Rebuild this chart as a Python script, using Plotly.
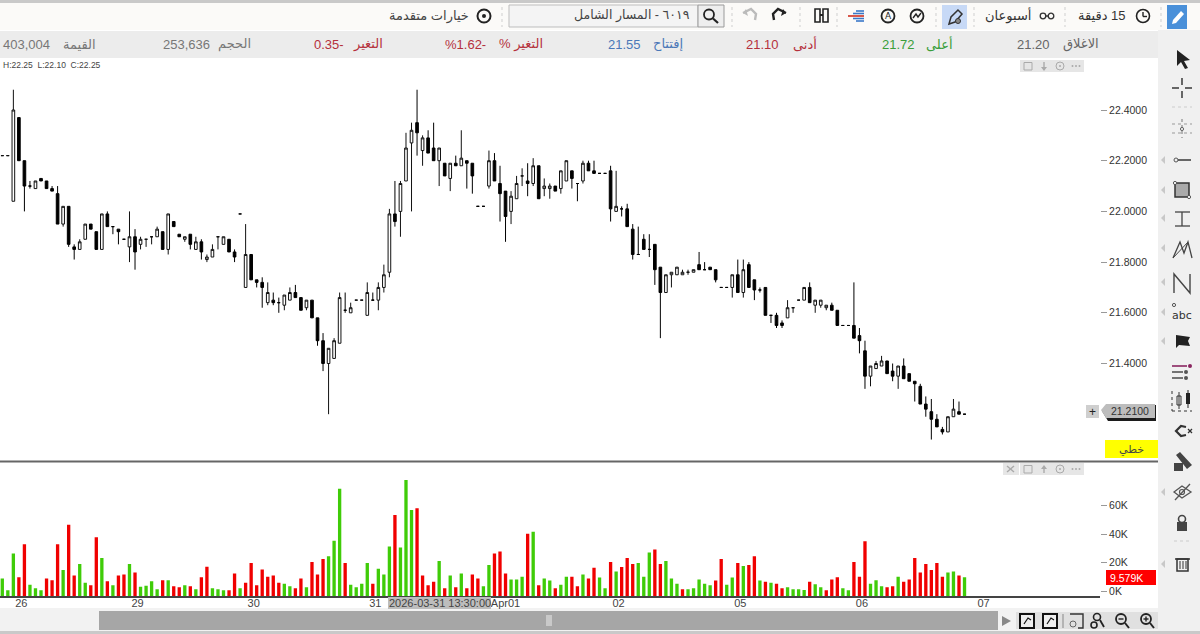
import plotly.graph_objects as go

opens = [22.22,22.22,22.04,22.37,22.20,22.10,22.09,22.13,22.12,22.09,
22.07,21.95,22.02,21.86,21.85,21.89,21.95,21.92,21.85,21.99,
21.94,21.93,21.89,21.86,21.90,21.87,21.89,21.90,21.90,21.92,
21.85,21.96,21.91,21.89,21.91,21.85,21.88,21.81,21.82,21.90,
21.87,21.89,21.84,21.99,21.70,21.83,21.73,21.72,21.64,21.65,
21.64,21.63,21.65,21.68,21.66,21.62,21.65,21.58,21.49,21.40,
21.42,21.48,21.61,21.60,21.65,21.65,21.59,21.65,21.65,21.70,
21.76,21.99,22.00,22.12,22.27,22.35,22.24,22.29,22.25,22.20,
22.19,22.13,22.19,22.18,22.20,22.19,22.02,22.02,22.10,22.20,
22.11,22.08,22.00,22.05,22.14,22.12,22.11,22.18,22.09,22.09,
22.10,22.09,22.12,22.16,22.11,22.12,22.19,22.16,22.15,22.15,
22.16,22.00,22.01,22.01,21.93,21.83,21.89,21.85,21.87,21.78,
21.68,21.75,21.75,21.75,21.76,21.76,21.79,21.77,21.78,21.77,
21.70,21.70,21.70,21.75,21.68,21.79,21.73,21.69,21.70,21.59,
21.59,21.56,21.58,21.62,21.65,21.65,21.70,21.63,21.63,21.62,
21.63,21.61,21.55,21.55,21.55,21.51,21.45,21.35,21.38,21.39,
21.41,21.37,21.35,21.39,21.36,21.33,21.31,21.24,21.21,21.18,
21.14,21.13,21.19,21.21,21.20]
highs = [22.22,22.22,22.48,22.37,22.20,22.12,22.12,22.13,22.12,22.10,
22.10,22.02,22.02,21.87,21.89,21.95,21.95,21.92,21.99,22.00,
21.94,21.93,21.89,22.00,21.93,21.90,21.89,21.90,21.94,21.92,
21.99,21.96,21.91,21.90,21.91,21.90,21.89,21.83,21.87,21.90,
21.90,21.89,21.85,21.99,21.95,21.83,21.73,21.74,21.72,21.68,
21.66,21.67,21.70,21.71,21.66,21.65,21.65,21.58,21.52,21.46,
21.50,21.68,21.68,21.64,21.65,21.65,21.72,21.68,21.72,21.79,
22.01,22.12,22.12,22.31,22.35,22.48,22.30,22.32,22.35,22.25,
22.19,22.19,22.22,22.32,22.20,22.19,22.02,22.02,22.24,22.23,
22.18,22.08,22.08,22.14,22.17,22.19,22.21,22.18,22.13,22.11,
22.10,22.16,22.20,22.16,22.11,22.20,22.20,22.20,22.15,22.15,
22.18,22.16,22.02,22.03,21.95,21.94,21.91,21.91,21.87,21.78,
21.75,21.76,21.78,21.77,21.77,21.77,21.84,21.80,21.78,21.77,
21.70,21.70,21.75,21.81,21.81,21.80,21.73,21.70,21.70,21.59,
21.60,21.57,21.65,21.62,21.65,21.70,21.72,21.65,21.65,21.63,
21.64,21.61,21.55,21.55,21.72,21.54,21.49,21.39,21.41,21.43,
21.41,21.40,21.39,21.42,21.36,21.33,21.32,21.27,21.26,21.20,
21.15,21.19,21.26,21.25,21.20]
lows = [22.22,22.22,22.04,22.20,22.00,22.09,22.09,22.12,22.09,22.08,
21.95,21.94,21.86,21.81,21.85,21.89,21.93,21.85,21.85,21.94,
21.91,21.87,21.89,21.80,21.77,21.85,21.86,21.87,21.90,21.85,
21.83,21.94,21.90,21.88,21.85,21.85,21.81,21.80,21.82,21.85,
21.87,21.84,21.80,21.99,21.70,21.73,21.70,21.62,21.63,21.63,
21.60,21.61,21.65,21.66,21.61,21.61,21.58,21.47,21.37,21.20,
21.42,21.48,21.60,21.60,21.65,21.65,21.59,21.65,21.61,21.68,
21.74,21.94,21.90,22.12,22.00,22.22,22.18,22.23,22.20,22.10,
22.14,22.08,22.18,22.18,22.09,22.07,22.02,22.02,22.09,22.12,
21.96,21.88,21.95,22.05,22.10,22.06,22.10,22.05,22.06,22.05,
22.08,22.07,22.12,22.09,22.04,22.11,22.16,22.15,22.15,22.15,
21.96,22.00,21.98,21.94,21.81,21.83,21.85,21.82,21.71,21.50,
21.68,21.70,21.75,21.75,21.75,21.76,21.77,21.77,21.77,21.72,
21.70,21.70,21.66,21.68,21.66,21.70,21.65,21.68,21.59,21.56,
21.54,21.54,21.58,21.60,21.65,21.65,21.64,21.60,21.62,21.61,
21.61,21.55,21.55,21.55,21.50,21.44,21.30,21.31,21.38,21.39,
21.36,21.33,21.30,21.34,21.33,21.25,21.24,21.19,21.10,21.15,
21.12,21.13,21.19,21.20,21.20]
closes = [22.22,22.22,22.40,22.20,22.10,22.10,22.12,22.12,22.09,22.08,
21.95,22.02,21.87,21.85,21.88,21.95,21.93,21.85,21.99,21.94,
21.94,21.92,21.89,21.90,21.84,21.89,21.89,21.90,21.93,21.85,
21.99,21.94,21.90,21.90,21.87,21.88,21.84,21.82,21.85,21.90,
21.90,21.84,21.82,21.99,21.83,21.73,21.72,21.70,21.68,21.64,
21.64,21.67,21.68,21.66,21.61,21.65,21.58,21.49,21.40,21.46,
21.49,21.66,21.61,21.62,21.65,21.65,21.68,21.65,21.70,21.75,
21.99,21.96,22.11,22.25,22.32,22.31,22.29,22.23,22.20,22.25,
22.14,22.19,22.18,22.21,22.19,22.14,22.02,22.02,22.20,22.12,
22.07,21.98,22.06,22.11,22.14,22.11,22.18,22.05,22.10,22.10,
22.08,22.16,22.20,22.13,22.11,22.19,22.16,22.15,22.15,22.15,
22.01,22.02,22.01,21.94,21.83,21.83,21.85,21.85,21.77,21.68,
21.75,21.76,21.78,21.76,21.76,21.77,21.77,21.77,21.77,21.73,
21.70,21.70,21.75,21.68,21.77,21.70,21.69,21.69,21.59,21.59,
21.55,21.55,21.62,21.62,21.65,21.70,21.64,21.65,21.65,21.63,
21.61,21.55,21.55,21.55,21.50,21.49,21.35,21.39,21.40,21.41,
21.36,21.35,21.39,21.34,21.33,21.32,21.24,21.22,21.18,21.15,
21.13,21.19,21.22,21.20,21.20]
volumes_k = [8.7,0.5,26.4,9.6,32.8,4.4,1.9,0.5,8.7,7.5,
32.8,14.7,46.5,10.8,19.0,5.8,4.0,37.7,23.2,6.8,
4.0,10.8,11.5,19.0,12.9,3.0,3.7,6.8,1.2,7.5,
7.5,3.3,2.6,4.0,3.3,1.2,9.6,17.0,1.9,1.2,
0.5,0.5,12.2,1.9,5.8,19.6,4.0,15.0,10.0,10.8,
5.8,5.1,3.3,1.9,8.7,2.6,20.4,11.5,22.5,24.3,
35.3,71.8,19.6,4.4,2.6,5.1,19.6,5.1,15.7,11.5,
31.3,53.3,30.6,77.9,56.8,58.0,10.8,4.0,6.5,21.0,
1.9,10.8,2.6,12.2,1.9,11.5,8.7,3.3,18.2,26.4,
27.8,12.2,8.0,8.0,10.0,40.2,41.6,4.0,8.7,7.3,
1.9,4.4,10.0,10.0,3.3,11.5,8.7,16.4,9.4,1.9,
20.4,13.6,16.8,23.2,19.0,19.6,10.0,27.1,29.2,19.0,
21.0,8.7,5.1,1.2,1.2,1.9,8.0,5.1,4.0,7.3,
22.5,4.4,9.4,19.6,17.5,18.2,24.3,7.3,6.5,5.8,
5.1,1.9,2.6,1.2,1.2,0.7,6.5,4.7,2.6,0.5,
8.0,9.6,1.9,0.5,20.4,10.0,34.9,5.1,7.5,3.3,
2.6,3.3,10.0,6.5,8.0,23.2,12.9,19.0,14.7,19.6,
10.0,12.9,13.6,10.8,9.579]
green_volume_bars = [0,1,2,5,6,7,11,14,15,18,20,23,25,26,27,28,30,33,35,38,39,40,43,
51,52,55,59,60,61,63,64,65,66,68,69,70,72,73,74,79,81,83,87,88,92,93,94,
96,98,99,101,102,105,108,109,111,115,116,117,120,121,122,124,125,126,127,128,
131,132,134,137,139,142,143,144,145,147,148,152,153,157,158,159,162,171,172,174]
session_starts = [2, 23, 44, 66, 88, 110, 132, 154, 176]
session_labels = ["26", "29", "30", "31", "Apr01", "02", "05", "06", "07"]
price_ticks = [21.4, 21.6, 21.8, 22.0, 22.2, 22.4]
volume_ticks_k = [0, 20, 40, 60]
volume_tick_labels = ["0K", "20K", "40K", "60K"]
last_price = "21.2100"
last_volume = "9.579K"

n = len(opens)
xs = list(range(n))
vol_colors = ["#3fcc08" if i in set(green_volume_bars) else "#f00000" for i in xs]

W, H = 1200, 634
PX_PER_BAR = 5.53
X0 = 2.3
AXIS_X = 1100
shapes, notes = [], []

def fx(x): return x / W
def fy(y): return 1 - y / H

def rect(x0, y0, x1, y1, fill=None, line=None, lw=1, layer="above"):
    shapes.append(dict(type="rect", xref="paper", yref="paper", x0=fx(x0), x1=fx(x1), y0=fy(y1), y1=fy(y0),
                       fillcolor=fill or "rgba(0,0,0,0)", line=dict(color=line or "rgba(0,0,0,0)", width=lw if line else 0), layer=layer))

def seg(x0, y0, x1, y1, color="#555", lw=1, dash="solid"):
    shapes.append(dict(type="line", xref="paper", yref="paper", x0=fx(x0), x1=fx(x1), y0=fy(y0), y1=fy(y1),
                       line=dict(color=color, width=lw, dash=dash)))

def circ(cx, cy, r, fill=None, line="#333", lw=1.5):
    shapes.append(dict(type="circle", xref="paper", yref="paper", x0=fx(cx-r), x1=fx(cx+r), y0=fy(cy+r), y1=fy(cy-r),
                       fillcolor=fill or "rgba(0,0,0,0)", line=dict(color=line or "rgba(0,0,0,0)", width=lw if line else 0)))

def poly(pts, fill=None, line=None, lw=1, close=True):
    d = "M " + " L ".join(f"{fx(x):.5f} {fy(y):.5f}" for x, y in pts) + (" Z" if close else "")
    shapes.append(dict(type="path", xref="paper", yref="paper", path=d, fillcolor=fill or "rgba(0,0,0,0)",
                       line=dict(color=line or "rgba(0,0,0,0)", width=lw if line else 0)))

def text(x, y, s, size=13, color="#555", anchor="center", font="Liberation Sans, DejaVu Sans"):
    notes.append(dict(xref="paper", yref="paper", x=fx(x), y=fy(y), text=s, showarrow=False, xanchor=anchor,
                      yanchor="middle", font=dict(size=size, color=color, family=font), borderpad=0, borderwidth=0))

# ---- page backgrounds
rect(0, 0, 1200, 3, fill="#c9c9c9", layer="below")
rect(0, 3, 1200, 30, fill="#fbfaf8", layer="below")
rect(0, 31, 1158, 58, fill="#ececec", layer="below")
rect(1158, 30, 1200, 634, fill="#f0f0f0", layer="below")
rect(0, 608, 1158, 634, fill="#f2f2f2", layer="below")
rect(0, 631, 1200, 634, fill="#c9c9c9", layer="below")
seg(0, 461.5, 1158, 461.5, color="#666", lw=2)

# ---- top toolbar
rect(1167, 5, 1187, 29, fill="#4a90d9")
poly([(1172, 24), (1173, 20), (1181, 11), (1184, 14), (1176, 23)], fill="white")
circ(1143, 16, 6.5, line="#222", lw=1.6); seg(1143, 12, 1143, 16.5, "#222", 1.4); seg(1143, 16.5, 1147, 16.5, "#222", 1.4)
text(1102, 16, "\u200f15 دقيقة", 13, "#333")
circ(1043, 16, 2.8, line="#333", lw=1.3); circ(1051, 16, 2.8, line="#333", lw=1.3); seg(1045, 16, 1049, 16, "#333", 1.5)
text(1008, 16, "أسبوعان", 13, "#333")
rect(942, 5, 967, 29, fill="#c7d9f6")
poly([(949, 24), (951, 17), (958, 10), (962, 14), (955, 22)], line="#333", lw=1.5); circ(958, 21, 2.5, fill="#888", line="#333", lw=1)
circ(917, 16, 6.5, line="#222", lw=1.8); poly([(913, 18), (916, 14), (918, 17), (921, 13)], line="#222", lw=1.4, close=False)
circ(888, 16, 6.5, line="#222", lw=1.8); text(888, 16, "A", 9, "#222", font="DejaVu Sans")
seg(848, 16, 864, 16, "#d03020", 1.6); seg(856, 11, 864, 11, "#3a78c8", 1.6); seg(853, 13.5, 864, 13.5, "#3a78c8", 1.6)
seg(853, 18.5, 864, 18.5, "#3a78c8", 1.6); seg(856, 21, 864, 21, "#3a78c8", 1.6)
rect(815, 9, 820, 22, fill=None, line="#222", lw=1.6); rect(823, 9, 828, 22, fill=None, line="#222", lw=1.6); seg(820, 15, 823, 15, "#222", 2)
poly([(774, 20), (773, 14), (778, 9), (786, 13)], line="#222", lw=2.4, close=False); poly([(786, 13), (781, 16), (783, 9)], fill="#222")
poly([(755, 20), (756, 14), (751, 9), (743, 13)], line="#bbb", lw=2.4, close=False); poly([(743, 13), (748, 16), (746, 9)], fill="#bbb")
for sx in [1161, 1065, 974, 936, 837, 800, 732, 502]:
    seg(sx, 7, sx, 27, "#cfcfcf", 1, "dot")
rect(509, 5, 698, 27, fill="#f4f4f4", line="#bdbdbd")
rect(698, 5, 724, 27, fill="#eeeeee", line="#9a9a9a")
circ(709, 14.5, 5, line="#222", lw=1.8); seg(713, 18.5, 718, 23, "#222", 2.2)
text(690, 16, "٦٠١٩ - المسار الشامل", 12.5, "#444", anchor="right")
text(469, 16, "خيارات متقدمة", 13, "#444", anchor="right")
circ(484, 16, 6.5, line="#222", lw=2); circ(484, 16, 2, fill="#222", line=None)

# ---- quote row
quote = [
    (1099, "الاغلاق", "#666"), (1050, "21.20", "#666"), (953, "أعلى", "#3a9e3a"), (915, "21.72", "#3a9e3a"),
    (817, "أدنى", "#b5303c"), (779, "21.10", "#b5303c"), (683, "إفتتاح", "#4a78b8"), (641, "21.55", "#4a78b8"),
    (543, "التغير %\u200f", "#b5303c"), (486, "%1.62-", "#b5303c"), (383, "التغير", "#b5303c"), (344, "0.35-", "#b5303c"),
    (251, "الحجم", "#777"), (210, "253,636", "#777"), (96, "القيمة", "#777"), (50, "403,004", "#777"),
]
for qx, s, c in quote:
    text(qx, 44, s, 13, c, anchor="right")
text(3, 65, "H:22.25\u00a0\u00a0L:22.10\u00a0\u00a0C:22.25", 8.5, "#444", anchor="left")

# ---- pane buttons
for bx in [1020, 1036, 1052, 1068]:
    rect(bx, 60, bx + 16, 72, fill="#e6e6e6")
rect(1024, 62.5, 1032, 70, line="#aaa")
seg(1044, 62, 1044, 70, "#aaa", 1.4); poly([(1041, 67), (1044, 71), (1047, 67)], fill="#aaa")
circ(1060, 66, 4, line="#aaa", lw=1); circ(1060, 66, 1, fill="#aaa", line=None)
for d in (-3.5, 0, 3.5):
    circ(1076 + d, 66, 1, fill="#aaa", line=None)
for bx in [1003, 1020, 1036, 1052, 1068]:
    rect(bx, 463, bx + 16, 475, fill="#e6e6e6")
seg(1007, 466, 1014, 472, "#aaa", 1.4); seg(1014, 466, 1007, 472, "#aaa", 1.4)
rect(1024, 465.5, 1032, 473, line="#aaa")
seg(1044, 466, 1044, 473, "#aaa", 1.4); poly([(1041, 469), (1044, 465), (1047, 469)], fill="#aaa")
circ(1060, 469, 4, line="#aaa", lw=1); circ(1060, 469, 1, fill="#aaa", line=None)
for d in (-3.5, 0, 3.5):
    circ(1076 + d, 469, 1, fill="#aaa", line=None)

# ---- axis badges
rect(1086, 405, 1099, 418, fill="#cfcfcf")
text(1092.5, 411.5, "+", 12, "#222")
poly([(1102, 411), (1107, 405), (1156, 405), (1156, 421), (1108, 421)], fill="#1c1c1c")
poly([(1101, 410), (1106, 404), (1155, 404), (1155, 418), (1106, 418)], fill="#bdbdbd")
text(1130, 411, last_price, 10.5, "#333")
rect(1105, 440, 1158, 458, fill="#ffff00")
text(1131, 449, "خطي", 11, "#444")
rect(1106, 570, 1156, 585, fill="#ff0000")
text(1110, 577.5, last_volume, 10.5, "white", anchor="left")

# ---- crosshair date chip
rect(388, 597, 491, 609, fill="#bdbdbd")
text(439.5, 603, "2026-03-31 13:30:00", 11, "#444")

# ---- scrollbar strip
rect(99, 611, 998, 630, fill="#a6a6a6")
rect(546, 615, 552, 626, fill="#c9c9c9")
poly([(1002, 616), (1002, 626), (1011, 621)], fill="#888")
rect(1016, 612, 1158, 629, fill="#e0e0e0")
rect(1020, 614, 1034, 628, fill="#eee", line="#111", lw=2)
rect(1043, 614, 1057, 628, fill="#eee", line="#111", lw=2)
poly([(1024, 624), (1028, 618), (1031, 620)], line="#111", lw=1.2, close=False)
poly([(1047, 624), (1051, 618), (1054, 620)], line="#111", lw=1.2, close=False)
seg(1063, 614, 1063, 628, "#888", 1)
poly([(1070, 614), (1083, 614), (1083, 628), (1078, 628)], line="#333", lw=1.4, close=False); circ(1073, 624, 3, line="#666", lw=1)
circ(1097, 617, 3.5, line="#222", lw=1.6); circ(1094, 625, 3, line="#222", lw=1.6); seg(1100, 620, 1104, 627, "#222", 1.8)
circ(1121, 619, 5, line="#222", lw=1.8); seg(1118.5, 619, 1123.5, 619, "#222", 1.4); seg(1125, 623, 1129, 628, "#222", 2)
circ(1146, 619, 5, line="#222", lw=1.8); seg(1143.5, 619, 1148.5, 619, "#222", 1.4); seg(1146, 616.5, 1146, 621.5, "#222", 1.4); seg(1150, 623, 1154, 628, "#222", 2)

# ---- right hand tool column
CX = 1182
for ty in (160, 190, 218, 248, 282, 312, 341, 492, 564):
    poly([(1165, ty - 4), (1165, ty + 4), (1161, ty)], fill="#c8c8c8")
poly([(1177, 50), (1177, 66), (1181, 62), (1185, 69), (1188, 68), (1184, 61), (1190, 60)], fill="#222")
seg(CX, 78, CX, 85, "#444", 1.6); seg(CX, 91, CX, 98, "#444", 1.6); seg(1172, 88, 1179, 88, "#444", 1.6); seg(1185, 88, 1192, 88, "#444", 1.6)
seg(1172, 107, 1192, 107, "#ccc", 1, "dot")
seg(CX, 119, CX, 138, "#777", 1, "dot"); seg(1172, 124, 1192, 124, "#999", 1, "dot"); seg(1172, 133, 1192, 133, "#999", 1, "dot"); circ(CX, 129, 1.6, line="#666", lw=1)
circ(1176, 160, 2, line="#555", lw=1); seg(1178, 160, 1191, 160, "#444", 1.6)
rect(1175, 183, 1189, 197, fill="#aaa", line="#333", lw=1.5)
circ(1175, 183, 1.6, fill="#fff", line="#555", lw=1); circ(1189, 197, 1.6, fill="#fff", line="#555", lw=1)
seg(1175, 212, 1190, 212, "#444", 1.3); seg(CX, 212, CX, 226, "#444", 1.3); seg(1175, 226, 1190, 226, "#444", 1.3)
poly([(1173, 258), (1180, 242), (1184, 253), (1188, 242), (1192, 258)], line="#444", lw=1.3, close=False); seg(1173, 258, 1188, 242, "#444", 1)
poly([(1174, 293), (1174, 274), (1190, 293), (1190, 274)], line="#444", lw=1.4, close=False)
text(CX, 315, "abc", 11, "#333", font="DejaVu Sans"); circ(1174, 305, 1.6, line="#555", lw=1)
poly([(1176, 348), (1176, 335), (1190, 337), (1188, 341), (1190, 346), (1179, 345)], fill="#222")
seg(1172, 366, 1187, 366, "#8a2560", 1.6); circ(1190, 366, 2, fill="#8a2560", line=None)
seg(1172, 372, 1183, 372, "#555", 1.6); circ(1186, 372, 2, fill="#555", line=None)
seg(1172, 378, 1183, 378, "#555", 1.6); circ(1186, 378, 2, fill="#555", line=None)
seg(1172, 391, 1172, 411, "#333", 1, "dot"); seg(1172, 411, 1192, 411, "#333", 1, "dot")
rect(1177, 396, 1181, 405, line="#333"); seg(1179, 392, 1179, 409, "#333", 1); rect(1186, 393, 1190, 404, fill="#222"); seg(1188, 390, 1188, 408, "#222", 1)
poly([(1186, 427), (1181, 426), (1176, 431), (1181, 436), (1186, 435)], line="#333", lw=2.2, close=False)
seg(1188, 429, 1192, 433, "#333", 1.2); seg(1192, 429, 1188, 433, "#333", 1.2)
poly([(1176, 455), (1180, 452), (1192, 465), (1187, 469)], fill="#444"); rect(1174, 463, 1183, 471, fill="#444")
poly([(1174, 492), (1182, 486), (1191, 492), (1182, 498)], line="#555", lw=1.3); circ(1182, 492, 2.5, line="#555", lw=1.2); seg(1175, 500, 1190, 484, "#555", 1.3)
rect(1177, 522, 1187, 531, fill="#444"); circ(1182, 519, 3.5, line="#444", lw=1.6)
seg(1174, 541, 1191, 541, "#ccc", 1, "dot")
seg(1175, 559, 1190, 559, "#333", 1.5); rect(1177, 559, 1188, 571, line="#333", lw=1.5); seg(1180, 561, 1180, 569, "#333", 1); seg(1183, 561, 1183, 569, "#333", 1); seg(1186, 561, 1186, 569, "#333", 1)

# ---- axis ranges derived from the reference's pixel scale
price_per_px = 0.2 / 50.7
vol_per_px = 20 / 28.5
P_TOP, P_BOT = 58, 461
V_TOP, V_BOT = 462, 596.3
y_422 = 110
price_range = [22.4 - (P_BOT - y_422) * price_per_px, 22.4 + (y_422 - P_TOP) * price_per_px]
vol_floor = -(V_BOT - 591) * vol_per_px
vol_range = [vol_floor, (591 - V_TOP) * vol_per_px]
x_range = [(0 - X0) / PX_PER_BAR, (AXIS_X - X0) / PX_PER_BAR]

label_offsets = [1.45 if len(s) < 3 else 3.0 for s in session_labels]
fig = go.Figure()
fig.add_trace(go.Candlestick(
    x=xs, open=opens, high=highs, low=lows, close=closes, xaxis="x", yaxis="y",
    whiskerwidth=0, hoverinfo="skip",
    increasing=dict(line=dict(color="#111", width=1), fillcolor="#ffffff"),
    decreasing=dict(line=dict(color="#000", width=1), fillcolor="#000000"),
))
fig.add_trace(go.Bar(
    x=xs, y=[v - vol_floor for v in volumes_k], base=vol_floor, xaxis="x", yaxis="y2",
    marker=dict(color=vol_colors, line=dict(width=0)), width=0.6, hoverinfo="skip",
))
fig.update_layout(
    width=W, height=H, autosize=False, margin=dict(l=0, r=0, t=0, b=0), showlegend=False,
    paper_bgcolor="white", plot_bgcolor="rgba(0,0,0,0)", boxgap=0.32, hovermode=False,
    font=dict(family="Liberation Sans, DejaVu Sans", color="#444"),
    shapes=shapes, annotations=notes,
    xaxis=dict(domain=[0, AXIS_X / W], range=x_range, anchor="y2", rangeslider=dict(visible=False),
               showgrid=False, zeroline=False, showline=True, linecolor="#444", linewidth=1.5,
               tickmode="array", tickvals=[s + o for s, o in zip(session_starts, label_offsets)],
               ticktext=session_labels, ticks="", ticklabelstandoff=-4, tickfont=dict(size=11, color="#444")),
    yaxis=dict(domain=[1 - P_BOT / H, 1 - P_TOP / H], range=price_range, anchor="x", side="right",
               showgrid=False, zeroline=False, showline=False, tickmode="array", tickvals=price_ticks,
               tickformat=".4f", ticks="outside", ticklen=6, tickcolor="#999", tickwidth=1,
               tickfont=dict(size=10.5, color="#333")),
    yaxis2=dict(domain=[1 - V_BOT / H, 1 - V_TOP / H], range=vol_range, anchor="x", side="right",
                showgrid=False, zeroline=False, showline=False, tickmode="array", tickvals=volume_ticks_k,
                ticktext=volume_tick_labels, ticks="outside", ticklen=6, tickcolor="#999", tickwidth=1,
                tickfont=dict(size=10.5, color="#333")),
)
fig.write_html("out.html", config=dict(displayModeBar=False),
               post_script="document.body.style.margin='0';document.body.style.overflow='hidden';")
